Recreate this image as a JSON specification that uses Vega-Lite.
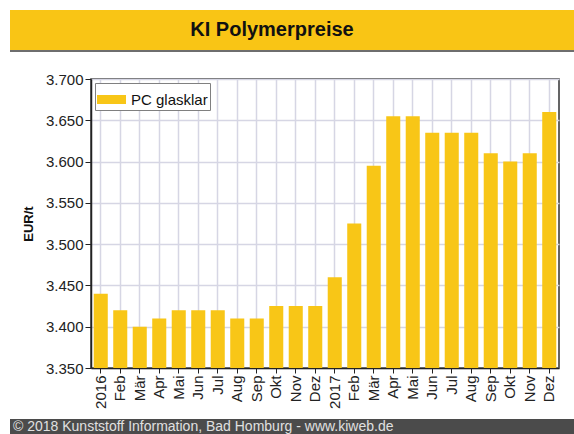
{
  "$schema": "https://vega.github.io/schema/vega-lite/v6.json",
  "padding": {"left": 10, "top": 10, "right": 0, "bottom": 0},
  "background": "white",
  "bounds": "flush",
  "spacing": 0,
  "columns": 2,
  "resolve": {"scale": {"color": "independent"}, "legend": {"color": "independent"}},
  "config": {"font": "Liberation Sans", "view": {"stroke": null}},
  "concat": [
    {"data": {"values": [{}]}, "width": 81, "height": 40, "view": {"fill": "#F9C515"}, "mark": {"type": "text", "text": ""}, "encoding": {}},
    {
      "data": {"values": [{"t": "KI Polymerpreise"}]},
      "width": 483,
      "height": 40,
      "view": {"fill": "#F9C515"},
      "mark": {"type": "text", "fontSize": 20, "fontWeight": "bold", "color": "#111111", "dx": -60.5},
      "encoding": {"text": {"field": "t"}}
    },
    {"data": {"values": [{}]}, "width": 81, "height": 2, "view": {"fill": "#6E6E6E"}, "mark": {"type": "text", "text": ""}, "encoding": {}},
    {"data": {"values": [{}]}, "width": 483, "height": 2, "view": {"fill": "#6E6E6E"}, "mark": {"type": "text", "text": ""}, "encoding": {}},
    {"data": {"values": [{}]}, "width": 81, "height": 27, "mark": {"type": "text", "text": ""}, "encoding": {}},
    {"data": {"values": [{}]}, "width": 483, "height": 27, "mark": {"type": "text", "text": ""}, "encoding": {}},
    {"data": {"values": [{}]}, "width": 81, "height": 289, "mark": {"type": "text", "text": ""}, "encoding": {}},
    {
      "data": {"values": [
        {"monat": "2016-01", "preis": 3440},
        {"monat": "2016-02", "preis": 3420},
        {"monat": "2016-03", "preis": 3400},
        {"monat": "2016-04", "preis": 3410},
        {"monat": "2016-05", "preis": 3420},
        {"monat": "2016-06", "preis": 3420},
        {"monat": "2016-07", "preis": 3420},
        {"monat": "2016-08", "preis": 3410},
        {"monat": "2016-09", "preis": 3410},
        {"monat": "2016-10", "preis": 3425},
        {"monat": "2016-11", "preis": 3425},
        {"monat": "2016-12", "preis": 3425},
        {"monat": "2017-01", "preis": 3460},
        {"monat": "2017-02", "preis": 3525},
        {"monat": "2017-03", "preis": 3595},
        {"monat": "2017-04", "preis": 3655},
        {"monat": "2017-05", "preis": 3655},
        {"monat": "2017-06", "preis": 3635},
        {"monat": "2017-07", "preis": 3635},
        {"monat": "2017-08", "preis": 3635},
        {"monat": "2017-09", "preis": 3610},
        {"monat": "2017-10", "preis": 3600},
        {"monat": "2017-11", "preis": 3610},
        {"monat": "2017-12", "preis": 3660}
      ]},
      "width": 468,
      "height": 289,
      "view": {"stroke": "#333333", "strokeWidth": 1.5},
      "mark": {"type": "bar", "clip": true},
      "encoding": {
        "x": {
          "field": "monat",
          "type": "ordinal",
          "title": null,
          "scale": {"paddingInner": 0.28, "paddingOuter": 0.14},
          "axis": {
            "labelAngle": -90,
            "labelAlign": "right",
            "labelBaseline": "middle",
            "labelFontSize": 15,
            "labelColor": "#222222",
            "labelPadding": 2,
            "tickSize": 5,
            "tickColor": "#222222",
            "domainColor": "#222222",
            "domainWidth": 1.5,
            "grid": true,
            "gridColor": "#D6D6E4",
            "gridWidth": 1.5,
            "bandPosition": 0.5,
            "labelExpr": "slice(datum.value,5)=='01' ? slice(datum.value,0,4) : ['','Jan','Feb','Mär','Apr','Mai','Jun','Jul','Aug','Sep','Okt','Nov','Dez'][toNumber(slice(datum.value,5))]"
          }
        },
        "y": {
          "field": "preis",
          "type": "quantitative",
          "title": "EUR/t",
          "scale": {"domain": [3350, 3700], "zero": false, "nice": false},
          "axis": {
            "values": [3350, 3400, 3450, 3500, 3550, 3600, 3650, 3700],
            "labelExpr": "replace(format(datum.value, ','), ',', '.')",
            "labelFontSize": 15,
            "labelColor": "#222222",
            "labelPadding": 2,
            "tickSize": 6,
            "tickColor": "#222222",
            "domainColor": "#222222",
            "domainWidth": 1.5,
            "gridColor": "#D6D6E4",
            "gridWidth": 1.5,
            "titleFontSize": 13,
            "titleFontWeight": "bold",
            "titleColor": "#111111",
            "titlePadding": 10
          }
        },
        "color": {
          "datum": "PC glasklar",
          "scale": {"range": ["#F8C617"]},
          "legend": {
            "title": null,
            "orient": "top-left",
            "offset": 4,
            "symbolType": "M-1,-0.31L1,-0.31L1,0.31L-1,0.31Z",
            "symbolSize": 841,
            "symbolStrokeWidth": 0,
            "labelFontSize": 15,
            "labelColor": "#111111",
            "labelOffset": 5,
            "strokeColor": "#808080",
            "fillColor": "white",
            "padding": 2
          }
        }
      }
    },
    {"data": {"values": [{}]}, "width": 81, "height": 51, "mark": {"type": "text", "text": ""}, "encoding": {}},
    {"data": {"values": [{}]}, "width": 483, "height": 51, "mark": {"type": "text", "text": ""}, "encoding": {}},
    {"data": {"values": [{}]}, "width": 81, "height": 15, "view": {"fill": "#4B4B4B"}, "mark": {"type": "text", "text": ""}, "encoding": {}},
    {
      "data": {"values": [{}]},
      "width": 483,
      "height": 15,
      "view": {"fill": "#4B4B4B"},
      "title": {
        "text": "© 2018 Kunststoff Information, Bad Homburg - www.kiweb.de",
        "orient": "bottom",
        "anchor": "start",
        "frame": "group",
        "offset": 0,
        "baseline": "bottom",
        "fontSize": 14,
        "fontWeight": "normal",
        "color": "#E0E0E0",
        "dx": -78
      },
      "mark": {"type": "text", "text": ""},
      "encoding": {}
    }
  ]
}
